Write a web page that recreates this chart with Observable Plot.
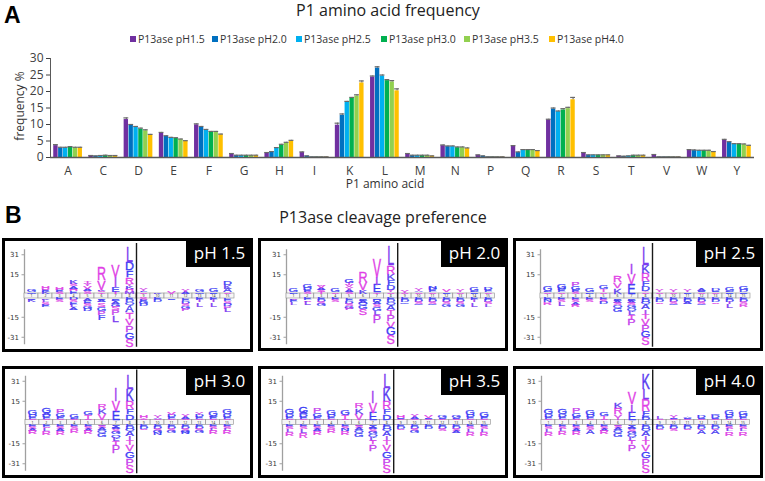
<!DOCTYPE html>
<html><head><meta charset="utf-8">
<script src="https://cdn.jsdelivr.net/npm/d3@7"></script>
<script src="https://cdn.jsdelivr.net/npm/@observablehq/plot@0.6"></script>
<style>
body{margin:0;width:765px;height:481px;position:relative;background:#fff;font-family:"Open Sans",sans-serif;overflow:hidden}
.abs{position:absolute;white-space:nowrap}
</style></head><body>
<script>
// ---------- Panel A data ----------
const aminoAcids = ["A","C","D","E","F","G","H","I","K","L","M","N","P","Q","R","S","T","V","W","Y"];
const seriesNames = ["P13ase pH1.5","P13ase pH2.0","P13ase pH2.5","P13ase pH3.0","P13ase pH3.5","P13ase pH4.0"];
const seriesColors = ["#7030A0","#0070C0","#00B0F0","#00B050","#92D050","#FFC000"];
const freq_pH15 = [3.6,0.5,11.5,7.3,9.9,1.0,1.3,1.5,9.8,24.4,1.0,3.6,0.7,3.4,11.4,1.3,0.4,0.7,2.2,5.3];
const freq_pH20 = [2.9,0.4,9.7,6.4,9.1,0.6,1.6,0.4,12.8,27.1,0.6,3.3,0.4,1.5,14.7,0.7,0.3,0.1,2.1,4.6];
const freq_pH25 = [2.9,0.5,9.1,5.9,8.3,0.6,2.8,0.1,16.7,24.7,0.6,3.3,0.1,2.2,13.9,0.7,0.4,0.1,2.1,4.0];
const freq_pH30 = [3.1,0.6,8.6,5.8,7.7,0.6,3.8,0.1,17.9,23.3,0.6,3.0,0.1,2.2,14.4,0.7,0.6,0.1,2.1,4.0];
const freq_pH35 = [2.9,0.5,8.1,5.4,7.7,0.6,4.4,0.1,18.6,22.9,0.6,3.0,0.1,2.2,14.8,0.7,0.6,0.1,2.1,3.9];
const freq_pH40 = [2.9,0.5,6.7,4.9,6.9,0.6,5.0,0.1,22.6,20.2,0.4,2.7,0.1,1.9,17.5,0.7,0.6,0.1,1.7,3.5];
const err_pH15 = [0.3,0.1,0.5,0.3,0.3,0.2,0.2,0.2,0.6,0.3,0.2,0.2,0.1,0.2,0.2,0.2,0.1,0.2,0.2,0.2];
const err_pH20 = [0.2,0.1,0.3,0.2,0.3,0.1,0.2,0.1,0.4,0.4,0.1,0.2,0.1,0.2,0.3,0.1,0.1,0.1,0.2,0.2];
const err_pH25 = [0.2,0.1,0.3,0.2,0.2,0.1,0.2,0.1,0.3,0.3,0.1,0.2,0.1,0.2,0.2,0.1,0.1,0.1,0.1,0.2];
const err_pH30 = [0.2,0.1,0.3,0.2,0.2,0.1,0.2,0.1,0.3,0.3,0.1,0.2,0.1,0.2,0.4,0.1,0.1,0.1,0.1,0.2];
const err_pH35 = [0.2,0.1,0.3,0.2,0.2,0.1,0.2,0.1,0.4,0.4,0.1,0.2,0.1,0.2,0.4,0.1,0.1,0.1,0.1,0.2];
const err_pH40 = [0.2,0.1,0.3,0.2,0.2,0.1,0.2,0.1,0.6,0.6,0.1,0.2,0.1,0.2,0.7,0.1,0.1,0.1,0.1,0.2];
const freqSeries = [freq_pH15,freq_pH20,freq_pH25,freq_pH30,freq_pH35,freq_pH40];
const errSeries = [err_pH15,err_pH20,err_pH25,err_pH30,err_pH35,err_pH40];
const yTicksA = [0,5,10,15,20,25,30];

// ---------- Panel B data (letter + height, listed from the axis outward) ----------
const positions = [1,2,3,4,5,6,7,8,9,10,11,12,13,14,15];
const logoTicks = [31, 15, -15, -31];
const pH15_up = ["Q1 G2.5","K1.5 E1.5 S1 H1.5","S1.5 E1.5 H2","E2 H2 A2 S1.5 K3","S2 A2 V2 Y2 T2","T1 S1 K1 V7.5 R10","T1.5 E4 I8 V9.5","M2 H2 K2 Y2 R5.5 F5.5 D6.5 L13","S1 F1 Y2","K1","V1.5","A1.5 Y2.5","Q1 G2.5","E1 G3","S1 A3 K3 D3.5"];
const pH15_down = ["E1 K1.5","K1 L2 S2 E2","E1.5 S1.5","D1.5 S1.5 E2 L2 A2","A2 E2 S2 G2 D2","E1 A2 S3.5 G3.5 P3 F4","E1 D1 A2 G2.5 S3 P4 L5.5","E1.5 D1.5 Q2 A5.5 T5.5 V5.5 P5.5 G5.5 S6","S1.5 E1.5 G1.5 D1.5","E1.5 D1.5","E1","E2 D2 S2 G2 P2","E1.5 I1.5 L3.5","E1.5 I1.5 L3.5","E2 S2 D2 P2 L3"];
const pH20_up = ["D1 G3.5","S1.5 E1.5 D1.5 G3.5","T1.5 S1.5 A1.5 V1.5 Y1","S1 G3.5","S1.5 A1.5 Y2 V2 T1.5 G3","K3 V6 R8","T1 E6 I6.5 V14.5","S1 Y1.5 D4 F4 K5.5 R6.5 L16","S0.8 Y1.5","S1 A1 Y2","S1 E1.5 D1.5 N1.5","E1 V1.5","S1 Y2","E1 D1 G3.5","S1 E1.5 D2.5"];
const pH20_down = ["S1 E1.5 L2.5","E1.5 S1 L3","E1.5 D1.5 S1.5 G1.5","E1.5 S1.5","E2 D2 S2 G2 P1.5","E1 D1 A1.5 Q2 G3 S5","E1 D1.5 A2 S2.5 G3 L3.5 P6","E1.5 D1.5 Q2 A4 T4 P5 V5.5 G6 S7","E1.5 D1.5 G1","E1.5 D1.5 S1.5 G1","E1.5 D1.5 S1.5 G1","E1.5 D1.5 S1.5 G2","E1.5 D1.5 S1.5 G2","E1.5 I1.5 L3.5","E1.5 D1.5 S1.5 L2.5"];
const pH25_up = ["S1 D1 G4","S1 E1.5 D1.5 G4","S1.5 E1.5 G3 P3","D1 G3","S1 T2.5 G3.5","K4.5 V4.5 R5","E8 V8 I8","S1 Y1 D4 F4 R6.5 K6.5 L15","S1 Y1.5","S1 Y2","E1 Y1.5","S1 E1 A1.5","S1 E1 D1.5","E1 D1 G3.5","E1 D1.5 G3"];
const pH25_down = ["E1.5 N1.5 R2","E1.5 S1.5 L3","E1.5 S1.5 A2 R2","E1.5 S1.5","E1.5 S1.5 D1.5","E1 D1 A1.5 S2 Q2 G3","E1 D1 A1.5 S2 G2 Q2.5 L3 T3 P5","E1.5 D1.5 Q1.5 A4 I3.5 T4 V5 P5 G5 S6","E1.5 D1.5 S1","E1.5 D1.5 S1.5 G1","E1.5 D1.5 A1.5","E1.5 D1.5 S1.5 G1","E1.5 D1.5 S1","E1.5 D1.5 I1.5 L3","E1.5 D1.5 S1.5 R2"];
const pH30_up = ["S1 E1.5 D1.5 G4","S1 E1.5 D1.5 A1.5 G4.5","S1 E1.5 G3 P3.5","S1 D1 G3.5","S1 T3 G3.5","V5 K4 R4","E7.5 V8 I10.5","D4.5 F4 R6.5 K9.5 L12","S1 Y1 H2","S1 A1 Y2","S1 E1.5 D1.5 V1.5","S1 A1.5 Y2","S1 E1.5 D1.5 Y1.5","S1 E1.5 D1 G4","S1 E1.5 D2 G4"];
const pH30_down = ["E1.5 S1.5 A1.5 R3","E1.5 S1 L2.5 R3","E1.5 S1.5 A2 R3","E1.5 S1.5 R3","E1.5 S1.5 A1.5 R3","E1 S1.5 A1.5 Q2 G3.5","E1 D1 A1.5 S2 G2 Q2.5 L3 T3 P6","E1.5 D1.5 Q1.5 A4 I3.5 T4 V5 G5.5 P5.5 S6.5","E1.5 D1.5 S1","E1.5 D1.5 S1.5 G1.5 N2","E1.5 D1.5 S1.5 G1.5","E1.5 D1.5 S1.5 G1.5 N1.5","E1.5 D1.5 S1.5 G1.5","E1.5 S1.5 L1.5 R3","E1.5 S1.5 L1.5 R3"];
const pH35_up = ["S1 E1.5 D2 G4.5","S1 E1.5 D2 A1.5 G5","S1 E1.5 G3 P4","S1 E1.5 D1.5 G4","S1 T3 G4","V5 K4.5 R4","E6 V8 I9","D4.5 F4 R6.5 K10.5 L12","S1 E1 H1.5","S1 A1.5 Y2.5","S1 E1 V2","S1 E1 G1.5","S1 E1 G2","S1 E1.5 D1.5 G4","S1 E1.5 G4"];
const pH35_down = ["E1.5 S1.5 L2.5 R3","E1.5 S1.5 L3 R4","E1.5 S1.5 A2 R3","E1.5 S1.5 R3","E1.5 S1.5 N2 R3","E1 S1.5 A1.5 Q2 G3.5","E1 D1 A1.5 S2 G2 Q2 L3 T3 P5.5","E1.5 D1.5 Q1.5 A4 I3.5 T4 V5 G5.5 P5.5 S6.5","E1.5 D1.5 S1","E1.5 D1.5 S1.5 G1.5","E1.5 D1.5","E1.5 D1.5 S1.5","E1.5 D1.5 S1.5 A1.5","E1.5 S1.5 L2.5 R3","E1.5 S1.5 L2.5 R3"];
const pH40_up = ["S1 E1.5 D2 G4.5","S1 E1.5 D2 G4.5","S1 E1.5 G3 P4","S1 E1.5 D1.5 G4","S1 T2 G3.5","Y4.5 R5 K4.5","E6 I6.5 V9.5","D2 E2 F3 R9.5 L8.5 K13","S1 L1.5","S1 E1 Y1.5","S1 E1 A1","S1 E1 D2","S1 E1 D2 G1","S1 E1.5 D1.5 G4","S1 E1.5 D1.5 G3.5"];
const pH40_down = ["E1.5 S1.5 L2.5 R3","E1.5 S1.5 L2 R3","E1.5 S1.5 A2 R3","E1.5 S1.5 T1 A3","E1.5 S1.5 A1.5 R3","E1 S1.5 A1.5 Q2 G3.5","E1 D1 A1.5 S2 G2 Q2 L3 T3 P5","E1.5 D1.5 Q2 A4 I3 T4 V5 G5.5 P5.5 S6.5","E1.5 D1.5 S1","E1.5 D1.5 S1.5","E1.5 D1.5 S1","E1.5 D1.5 S1 A3","E1.5 D1.5 S1 A3","E1.5 S1.5 L2 R3.5","E1.5 S1.5 L2 R3.5"];
const letterKeys = ["L","K","I","M","W","R","V","S","T","P","Y","H","D","E","F","G","Q","A","N","C"];
const letterColorVals = ["#7a3cf0","#5a3cf0","#a23ff0","#8a3cf0","#8a3cf0","#e03fe6","#e03fe6","#e03fe6","#e03fe6","#c43fec","#d03fe8","#e03fe6","#3c3cf5","#3c3cf5","#3c3cf5","#3c3cf5","#3c3cf5","#4a3cf2","#3c3cf5","#3c3cf5"];

// ---------- layout ----------
const root = document.body;
function addDiv(css, html){ const d = document.createElement("div"); d.className = "abs"; d.style.cssText = css; if (html != null) d.innerHTML = html; root.appendChild(d); return d; }

// Panel A
const rowsA = [];
const groupW = 0.83, barW = groupW / 6;
freqSeries.forEach((vals, s) => vals.forEach((v, i) => {
  const x1 = i - groupW / 2 + s * barW;
  rowsA.push({aa: aminoAcids[i], series: seriesNames[s], v, e: errSeries[s][i], x1, x2: x1 + barW, xc: x1 + barW / 2});
}));
const chartA = Plot.plot({
  width: 765, height: 200,
  marginLeft: 50, marginRight: 11, marginTop: 58, marginBottom: 43,
  x: {domain: [-0.5, 19.5]},
  y: {domain: [0, 30]},
  color: {domain: seriesNames, range: seriesColors},
  style: {fontFamily: "Open Sans", fontSize: "12px", color: "#404040", background: "transparent"},
  marks: [
    Plot.rectY(rowsA, {x1: "x1", x2: "x2", y: "v", fill: "series", insetLeft: 0.25, insetRight: 0.25}),
    Plot.ruleX(rowsA, {x: "xc", y1: "v", y2: d => d.v + d.e, stroke: "#5a5a5a", strokeWidth: 1}),
    Plot.ruleY(rowsA, {x1: d => d.xc - barW * 0.5, x2: d => d.xc + barW * 0.5, y: d => d.v + d.e, stroke: "#6a6a6a", strokeWidth: 1.2}),
    Plot.ruleX([-0.5], {y1: 0, y2: 30, stroke: "#595959", strokeWidth: 1}),
    Plot.ruleY([0], {stroke: "#595959", strokeWidth: 1.5}),
    Plot.axisY(yTicksA, {tickSize: 4, tickPadding: 3, label: null, fontSize: 12, color: "#404040"}),
    Plot.axisX(d3.range(aminoAcids.length), {tickFormat: i => aminoAcids[i], tickSize: 0, tickPadding: 9, label: null, fontSize: 12, color: "#404040"})
  ]
});
chartA.style.position = "absolute"; chartA.style.left = "0px"; chartA.style.top = "0px";
root.appendChild(chartA);

addDiv("left:4px;top:4px;font:bold 23px 'Liberation Sans',sans-serif;line-height:23px;color:#000", "A");
addDiv("left:238px;top:0px;width:300px;text-align:center;font-size:16px;line-height:21px;color:#222", "P1 amino acid frequency");
const legendLefts = [130, 212, 296, 381, 464, 549];
seriesNames.forEach((n, i) => {
  addDiv(`left:${legendLefts[i]}px;top:32px;font-size:10.5px;line-height:14px;color:#333`,
    `<span style="display:inline-block;width:6px;height:6px;background:${seriesColors[i]};margin-right:2px;vertical-align:1px"></span>${n}`);
});
addDiv("left:-20px;top:99px;width:80px;text-align:center;font-size:12px;line-height:14px;color:#333;transform:rotate(-90deg)", "frequency %");
addDiv("left:285px;top:177px;width:200px;text-align:center;font-size:12px;line-height:14px;color:#333", "P1 amino acid");

// Panel B
addDiv("left:5px;top:204px;font:bold 23px 'Liberation Sans',sans-serif;line-height:23px;color:#000", "B");
addDiv("left:233px;top:207px;width:300px;text-align:center;font-size:16px;line-height:21px;color:#222", "P13ase cleavage preference");

const GAP = 2;            // half height of the position strip (in logo units)
const K = 1.25;           // px per logo unit
const shift = v => v >= 0 ? v + GAP : v - GAP;
function parseStack(s){ return s ? s.split(" ").map(t => ({aa: t[0], h: +t.slice(1)})) : []; }
function buildLetters(up, down){
  const out = [];
  up.forEach((s, i) => { let c = GAP; parseStack(s).forEach(({aa, h}) => { out.push({pos: positions[i], aa, y1: c, y2: c + h}); c += h; }); });
  down.forEach((s, i) => { let c = -GAP; parseStack(s).forEach(({aa, h}) => { out.push({pos: positions[i], aa, y1: c - h, y2: c}); c -= h; }); });
  return out;
}
const panels = [
  {label: "pH 1.5", up: pH15_up, down: pH15_down, left: 2, top: 238, w: 251, h: 114, x0: 24, step: 14.0, cy: 295.5},
  {label: "pH 2.0", up: pH20_up, down: pH20_down, left: 258, top: 238, w: 250, h: 113, x0: 286, step: 13.9, cy: 295.5},
  {label: "pH 2.5", up: pH25_up, down: pH25_down, left: 513, top: 238, w: 250, h: 113, x0: 540, step: 14.0, cy: 295.5},
  {label: "pH 3.0", up: pH30_up, down: pH30_down, left: 2, top: 366, w: 251, h: 112, x0: 25, step: 13.9, cy: 422},
  {label: "pH 3.5", up: pH35_up, down: pH35_down, left: 258, top: 366, w: 250, h: 112, x0: 282, step: 13.9, cy: 422},
  {label: "pH 4.0", up: pH40_up, down: pH40_down, left: 513, top: 366, w: 250, h: 112, x0: 541, step: 13.9, cy: 422}
];
const FS = 10, CAP = 0.716, SX = 1.25;
const colorOf = Object.fromEntries(letterKeys.map((k, i) => [k, letterColorVals[i]]));
panels.forEach(p => {
  const letters = buildLetters(p.up, p.down);
  const xl = p.x0 - p.left, xr = xl + 15 * p.step;
  const cy = p.cy - p.top, D = 60;
  const chart = Plot.plot({
    width: p.w, height: p.h,
    marginLeft: xl, marginRight: p.w - xr, marginTop: 10, marginBottom: 8,
    x: {domain: [0.5, 15.5], range: [xl, xr], axis: null},
    y: {domain: [-D, D], range: [cy + D * K, cy - D * K]},
    color: {domain: letterKeys, range: letterColorVals},
    style: {background: "#fff", overflow: "hidden"},
    marks: [
      Plot.ruleX([0.5], {y1: -39, y2: 37, stroke: "#a0a0a0", strokeWidth: 1.3}),
      Plot.axisY(logoTicks.map(shift), {anchor: "left", tickFormat: d => String(d > 0 ? d - GAP : d + GAP), tickSize: 2.5, tickPadding: 3, fontSize: 7, fontFamily: "DejaVu Sans", stroke: "#a0a0a0", fill: "#333", label: null}),
      Plot.rect(positions, {x1: d => d - 0.5, x2: d => d + 0.5, y1: -GAP, y2: GAP, fill: "#f6f6f6", stroke: "#8c8c8c", strokeWidth: 0.6}),
      Plot.text(positions, {x: d => d, y: 0, text: d => String(d), fontSize: 3.5, fill: "#333"}),
      Plot.ruleX([8.5], {y1: -41, y2: 42, stroke: "#1a1a1a", strokeWidth: 1.4}),
      Plot.text(letters, {x: "pos", y: "y1", text: "aa", fill: "aa", fontSize: FS, fontFamily: "Liberation Sans", lineAnchor: "bottom"})
    ]
  });
  // stretch each glyph so that it spans exactly its stacked interval [y1, y2]
  const xs = chart.scale("x"), ys = chart.scale("y");
  const g = [...chart.querySelectorAll("g")].find(el => el.children.length === letters.length && el.firstElementChild && el.firstElementChild.tagName.toLowerCase() === "text");
  if (g) {
    [...g.children].forEach((t, j) => {
      const d = letters[j]; if (!d) return;
      const X = xs.apply(d.pos), Y0 = ys.apply(d.y1), Y1 = ys.apply(d.y2);
      const sy = (Y0 - Y1) / (FS * CAP);
      t.removeAttribute("x"); t.removeAttribute("y"); t.removeAttribute("dy");
      t.setAttribute("transform", `translate(${X},${Y0}) scale(${SX},${sy})`);
      t.setAttribute("stroke", colorOf[d.aa]);
      t.setAttribute("stroke-width", "0.35");
      t.setAttribute("vector-effect", "non-scaling-stroke");
    });
  }
  chart.style.position = "absolute"; chart.style.left = p.left + "px"; chart.style.top = p.top + "px";
  root.appendChild(chart);
  addDiv(`left:${p.left}px;top:${p.top}px;width:${p.w}px;height:${p.h}px;border:3px solid #000;box-sizing:border-box`);
  addDiv(`left:${p.left + p.w - 67}px;top:${p.top}px;width:67px;height:29px;background:#000;color:#fff;font-size:17px;line-height:29px;text-align:center`, p.label);
});
</script>
</body></html>
